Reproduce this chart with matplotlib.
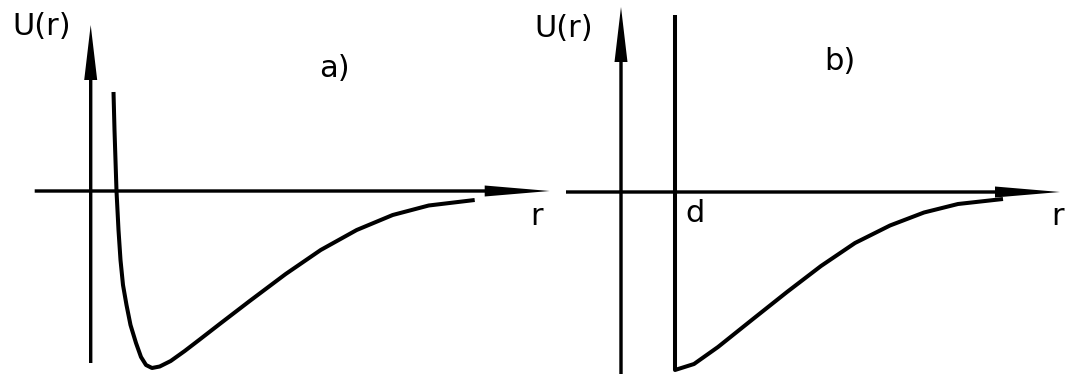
import matplotlib
matplotlib.use("Agg")
import matplotlib.pyplot as plt

# ---- data -------------------------------------------------------------
# a) soft-core (Lennard-Jones-like) potential, arbitrary units
r_a = [0.228, 0.238, 0.258, 0.278, 0.298, 0.323, 0.358, 0.398, 0.453,
       0.503, 0.553, 0.613, 0.69, 0.80, 0.94, 1.09, 1.29, 1.59, 1.95,
       2.30, 2.66, 3.02, 3.38, 3.84]
U_a = [0.99, 0.61, 0.00, -0.39, -0.69, -0.94, -1.14, -1.34, -1.52, -1.66,
       -1.74, -1.77, -1.755, -1.70, -1.60, -1.485, -1.33, -1.10, -0.83,
       -0.59, -0.39, -0.24, -0.145, -0.09]

# b) hard-core wall at r = d plus attractive tail
d_b = 0.54
wall_top_b = 1.77
r_b = [0.54, 0.73, 0.97, 1.32, 1.66, 2.00, 2.34, 2.69, 3.03, 3.37, 3.82]
U_b = [-1.78, -1.72, -1.55, -1.27, -1.00, -0.74, -0.51, -0.335, -0.205,
       -0.12, -0.07]

# ---- figure -----------------------------------------------------------
W, H, DPI = 1067, 374, 100
fig = plt.figure(figsize=(W / DPI, H / DPI), dpi=DPI)
fig.patch.set_facecolor("white")

FONT = dict(family="DejaVu Sans", fontsize=22, color="black")


def make_panel(ox, oy):
    """Full-figure axes whose origin sits at pixel (ox, oy), 100 px per unit."""
    ax = fig.add_axes([0, 0, 1, 1])
    ax.set_xlim(-ox / 100, (W - ox) / 100)
    ax.set_ylim(-(H - oy) / 100, oy / 100)
    ax.axis("off")
    ax.patch.set_alpha(0)
    return ax


def axis_arrow(ax, x0, y0, x1, y1, head_len=0.6, head_w=0.11):
    ax.arrow(x0, y0, x1 - x0, y1 - y0, width=0.034, head_width=head_w,
             head_length=head_len, length_includes_head=True,
             facecolor="black", edgecolor="none", lw=0)


line_kw = dict(color="black", lw=2.9, solid_joinstyle="round",
               solid_capstyle="butt")

# ---- panel a ----------------------------------------------------------
ax_a = make_panel(90.7, 191)
axis_arrow(ax_a, -0.56, 0, 4.59, 0, head_len=0.65, head_w=0.11)
axis_arrow(ax_a, 0, -1.72, 0, 1.66, head_len=0.55, head_w=0.13)
ax_a.plot(r_a, U_a, **line_kw)
ax_a.text(-0.49, 1.56, "U(r)", ha="center", va="baseline", **FONT)
ax_a.text(2.44, 1.14, "a)", ha="center", va="baseline", **FONT)
ax_a.text(4.46, -0.34, "r", ha="center", va="baseline", **FONT)

# ---- panel b ----------------------------------------------------------
ax_b = make_panel(621, 192)
axis_arrow(ax_b, -0.55, 0, 4.39, 0, head_len=0.65, head_w=0.11)
axis_arrow(ax_b, 0, -1.82, 0, 1.85, head_len=0.55, head_w=0.13)
ax_b.plot([d_b] + r_b, [wall_top_b] + U_b, **line_kw)
ax_b.text(-0.57, 1.55, "U(r)", ha="center", va="baseline", **FONT)
ax_b.text(2.19, 1.22, "b)", ha="center", va="baseline", **FONT)
ax_b.text(4.37, -0.33, "r", ha="center", va="baseline", **FONT)
ax_b.text(0.74, -0.30, "d", ha="center", va="baseline", **FONT)

fig.savefig("out.png", dpi=DPI, facecolor="white")
